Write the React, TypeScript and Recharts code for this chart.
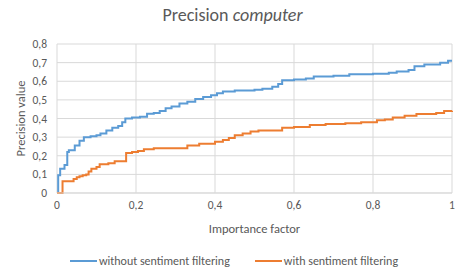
import { LineChart, Line, XAxis, YAxis, CartesianGrid, Legend } from 'recharts'

// ==================== || PRECISION COMPUTER - STEP CHART ||==================== //

const BLUE_X = [
    0, 0.003, 0.008, 0.019, 0.026, 0.03, 0.045, 0.057, 0.068, 0.085, 0.1, 0.11,
    0.125, 0.14, 0.155, 0.165, 0.173, 0.19, 0.21, 0.228, 0.245, 0.26, 0.275,
    0.29, 0.31, 0.33, 0.35, 0.37, 0.39, 0.405, 0.42, 0.45, 0.5, 0.52, 0.545,
    0.56, 0.57, 0.6, 0.63, 0.65, 0.7, 0.74, 0.8, 0.84, 0.86, 0.89, 0.905, 0.93,
    0.97, 0.99, 1,
]
const BLUE_Y = [
    0, 0.095, 0.13, 0.15, 0.22, 0.23, 0.255, 0.28, 0.3, 0.305, 0.31, 0.32,
    0.335, 0.35, 0.36, 0.38, 0.4, 0.405, 0.41, 0.425, 0.43, 0.44, 0.455, 0.465,
    0.48, 0.49, 0.505, 0.515, 0.525, 0.535, 0.545, 0.55, 0.555, 0.56, 0.57,
    0.585, 0.605, 0.61, 0.615, 0.625, 0.63, 0.638, 0.64, 0.645, 0.652, 0.66,
    0.68, 0.69, 0.7, 0.71, 0.71,
]

const ORANGE_X = [
    0, 0.014, 0.042, 0.05, 0.057, 0.065, 0.074, 0.08, 0.087, 0.1, 0.108, 0.13,
    0.146, 0.175, 0.19, 0.205, 0.22, 0.245, 0.33, 0.36, 0.4, 0.42, 0.435, 0.45,
    0.47, 0.49, 0.51, 0.57, 0.6, 0.64, 0.68, 0.73, 0.77, 0.81, 0.83, 0.85,
    0.88, 0.91, 0.96, 0.98, 1,
]
const ORANGE_Y = [
    0, 0.063, 0.075, 0.085, 0.09, 0.095, 0.1, 0.115, 0.13, 0.14, 0.155, 0.16,
    0.17, 0.215, 0.22, 0.225, 0.235, 0.24, 0.255, 0.265, 0.275, 0.285, 0.295,
    0.31, 0.32, 0.33, 0.335, 0.35, 0.355, 0.365, 0.37, 0.375, 0.38, 0.39,
    0.395, 0.405, 0.415, 0.424, 0.43, 0.44, 0.442,
]

const X_TICKS = [0, 0.2, 0.4, 0.6, 0.8, 1]
const Y_TICKS = [0, 0.1, 0.2, 0.3, 0.4, 0.5, 0.6, 0.7, 0.8]

const blueData = BLUE_X.map((x, i) => ({ x, y: BLUE_Y[i] }))
const orangeData = ORANGE_X.map((x, i) => ({ x, y: ORANGE_Y[i] }))

const FONT = 'Calibri, Carlito, "Open Sans", sans-serif'
const TEXT = '#595959'
const GRID = '#d9d9d9'

const fmt = (v: number) => String(Math.round(v * 10) / 10).replace('.', ',')

const LegendContent = () => (
    <div
        style={{
            display: 'flex',
            justifyContent: 'center',
            alignItems: 'center',
            fontFamily: FONT,
            fontSize: 12,
            color: TEXT,
            height: 30,
            paddingLeft: 16,
        }}
    >
        <span style={{ display: 'inline-block', width: 27, height: 2, background: '#5b9bd5', marginRight: 2 }} />
        <span style={{ marginRight: 25 }}>without sentiment filtering</span>
        <span style={{ display: 'inline-block', width: 27, height: 2, background: '#ed7d31', marginRight: 2 }} />
        <span>with sentiment filtering</span>
    </div>
)

const App = () => {
    return (
        <div style={{ position: 'absolute', left: 0, top: 0, width: 465, height: 276, background: '#fff' }}>
            <div
                style={{
                    position: 'absolute',
                    top: 4,
                    width: 465,
                    textAlign: 'center',
                    fontFamily: FONT,
                    fontSize: 18,
                    color: TEXT,
                }}
            >
                Precision <i>computer</i>
            </div>
            <LineChart
                width={465}
                height={276}
                margin={{ top: 44, right: 13, left: 0, bottom: 0 }}
            >
                <CartesianGrid stroke={GRID} strokeWidth={1} />
                <XAxis
                    type="number"
                    dataKey="x"
                    domain={[0, 1]}
                    ticks={X_TICKS}
                    interval={0}
                    tickFormatter={fmt}
                    height={53}
                    tickLine={false}
                    axisLine={{ stroke: GRID }}
                    tick={{ fill: TEXT, fontSize: 11.5, fontFamily: FONT }}
                    label={{
                        value: 'Importance factor',
                        position: 'insideBottom',
                        offset: 13,
                        style: { fill: TEXT, fontSize: 12.5, fontFamily: FONT },
                    }}
                />
                <YAxis
                    type="number"
                    dataKey="y"
                    domain={[0, 0.8]}
                    ticks={Y_TICKS}
                    interval={0}
                    tickFormatter={fmt}
                    width={57}
                    tickLine={false}
                    axisLine={false}
                    tickMargin={4}
                    tick={{ fill: TEXT, fontSize: 11.5, fontFamily: FONT }}
                    label={{
                        value: 'Precision value',
                        angle: -90,
                        position: 'insideLeft',
                        offset: 21,
                        style: { fill: TEXT, fontSize: 12.5, fontFamily: FONT, textAnchor: 'middle' },
                    }}
                />
                <Legend verticalAlign="bottom" height={30} content={<LegendContent />} />
                <Line
                    data={blueData}
                    dataKey="y"
                    name="without sentiment filtering"
                    type="stepAfter"
                    stroke="#5b9bd5"
                    strokeWidth={2}
                    dot={false}
                    isAnimationActive={false}
                />
                <Line
                    data={orangeData}
                    dataKey="y"
                    name="with sentiment filtering"
                    type="stepAfter"
                    stroke="#ed7d31"
                    strokeWidth={2}
                    dot={false}
                    isAnimationActive={false}
                />
            </LineChart>
        </div>
    )
}

export default App
